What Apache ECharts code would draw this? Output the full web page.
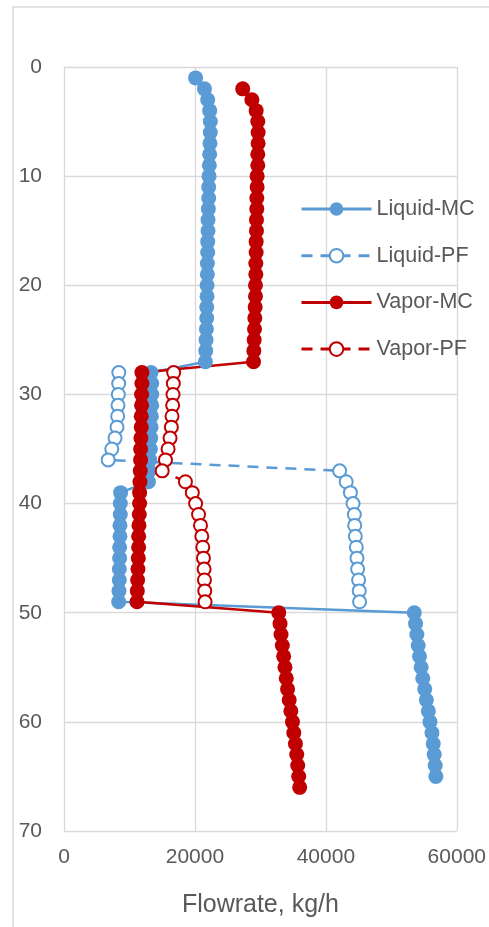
<!DOCTYPE html>
<html>
<head>
<meta charset="utf-8">
<script src="https://cdn.jsdelivr.net/npm/echarts@6/dist/echarts.min.js"></script>
<style>
html,body{margin:0;padding:0;background:#fff;}
#chart{width:489px;height:927px;}
</style>
</head>
<body>
<div id="chart"></div>
<script>
// ---- data ----
const seriesNames = ['Liquid-MC', 'Liquid-PF', 'Vapor-MC', 'Vapor-PF'];
const xTicks = [0, 20000, 40000, 60000];
const yTicks = [0, 10, 20, 30, 40, 50, 60, 70];

const liquidMCStages = [1,2,3,4,5,6,7,8,9,10,11,12,13,14,15,16,17,18,19,20,21,22,23,24,25,26,27,28,29,30,31,32,33,34,35,36,37,38,39,40,41,42,43,44,45,46,47,48,49,50,51,52,53,54,55,56,57,58,59,60,61,62,63,64,65];
const liquidMCFlow = [20100,21450,21950,22250,22350,22350,22300,22250,22200,22150,22100,22100,22050,22000,22000,21950,21950,21900,21900,21850,21850,21800,21800,21750,21700,21650,21600,
  13300,13400,13400,13400,13350,13300,13250,13200,13100,13000,12900,
  8650,8600,8600,8550,8550,8500,8500,8450,8450,8400,8350,
  53500,53700,53900,54100,54300,54550,54800,55100,55350,55650,55900,56200,56400,56550,56700,56800];

const liquidPFStages = [28,29,30,31,32,33,34,35,36,37,38,39,40,41,42,43,44,45,46,47,48,49];
const liquidPFFlow = [8370,8350,8300,8250,8200,8100,7800,7300,6750,
  42100,43100,43750,44150,44350,44400,44500,44650,44750,44850,45000,45100,45150];

const vaporMCStages = [2,3,4,5,6,7,8,9,10,11,12,13,14,15,16,17,18,19,20,21,22,23,24,25,26,27,28,29,30,31,32,33,34,35,36,37,38,39,40,41,42,43,44,45,46,47,48,49,50,51,52,53,54,55,56,57,58,59,60,61,62,63,64,65,66];
const vaporMCFlow = [27300,28700,29350,29600,29650,29650,29600,29600,29500,29500,29450,29450,29400,29400,29350,29350,29300,29300,29250,29250,29200,29150,29100,29050,29000,28950,
  11900,11900,11850,11850,11800,11800,11750,11700,11700,11650,11600,11550,11550,11500,11450,11400,11400,11350,11300,11250,11200,11150,
  32800,33000,33150,33350,33550,33750,33950,34150,34400,34650,34900,35100,35350,35550,35700,35850,36000];

const vaporPFStages = [28,29,30,31,32,33,34,35,36,37,38,39,40,41,42,43,44,45,46,47,48,49];
const vaporPFFlow = [16750,16700,16650,16600,16500,16400,16200,15900,15500,15000,
  18550,19600,20100,20550,20850,21050,21200,21300,21400,21450,21500,21550];

// ---- chart ----
const blue = '#5B9BD5', red = '#C00000', txt = '#595959', gridC = '#d9d9d9';
const font = 'Liberation Sans';
const pairs = (xs, ys) => xs.map((x, i) => [x, ys[i]]);

const chart = echarts.init(document.getElementById('chart'), null, {renderer: 'canvas'});

function mcSeries(name, color, xs, ys) {
  return {
    name, type: 'line', data: pairs(xs, ys),
    symbol: 'circle', symbolSize: 15, showSymbol: true,
    lineStyle: {color, width: 2.5},
    itemStyle: {color, borderWidth: 0},
    animation: false
  };
}
function pfSeries(name, color, xs, ys) {
  return {
    name, type: 'line', data: pairs(xs, ys),
    symbol: 'emptyCircle', symbolSize: 13, showSymbol: true,
    lineStyle: {color, width: 2.5, type: [11, 8]},
    itemStyle: {color, borderWidth: 1.8},
    animation: false
  };
}

chart.setOption({
  backgroundColor: '#fff',
  animation: false,
  textStyle: {fontFamily: font},
  graphic: [{
    type: 'rect', z: -10, silent: true,
    shape: {x: 13, y: 7, width: 700, height: 1100},
    style: {fill: 'none', stroke: gridC, lineWidth: 1.5}
  }],
  grid: {left: 64, top: 67, width: 394, height: 764, containLabel: false},
  legend: {
    orient: 'vertical', left: 300, top: 198,
    itemWidth: 70, itemHeight: 17, itemGap: 24.7, padding: 0,
    data: seriesNames,
    lineStyle: {width: 3},
    textStyle: {fontSize: 21.5, color: txt, fontFamily: font, lineHeight: 22}
  },
  xAxis: {
    type: 'value', min: 0, max: 60000, interval: 20000,
    axisLine: {show: false}, axisTick: {show: false},
    splitLine: {show: true, lineStyle: {color: gridC, width: 1.3}},
    axisLabel: {fontSize: 21, color: txt, margin: 16, fontFamily: font,
      formatter: v => xTicks.includes(v) ? String(v) : ''},
    name: 'Flowrate, kg/h', nameLocation: 'middle', nameGap: 62,
    nameTextStyle: {fontSize: 25, color: txt, fontFamily: font}
  },
  yAxis: {
    type: 'value', inverse: true, min: 0, max: 70, interval: 10,
    axisLine: {show: false}, axisTick: {show: false},
    splitLine: {show: true, lineStyle: {color: gridC, width: 1.3}},
    axisLabel: {fontSize: 21, color: txt, margin: 22, fontFamily: font,
      formatter: v => yTicks.includes(v) ? String(v) : ''}
  },
  series: [
    mcSeries('Liquid-MC', blue, liquidMCFlow, liquidMCStages),
    pfSeries('Liquid-PF', blue, liquidPFFlow, liquidPFStages),
    mcSeries('Vapor-MC', red, vaporMCFlow, vaporMCStages),
    pfSeries('Vapor-PF', red, vaporPFFlow, vaporPFStages)
  ]
});
</script>
</body>
</html>
